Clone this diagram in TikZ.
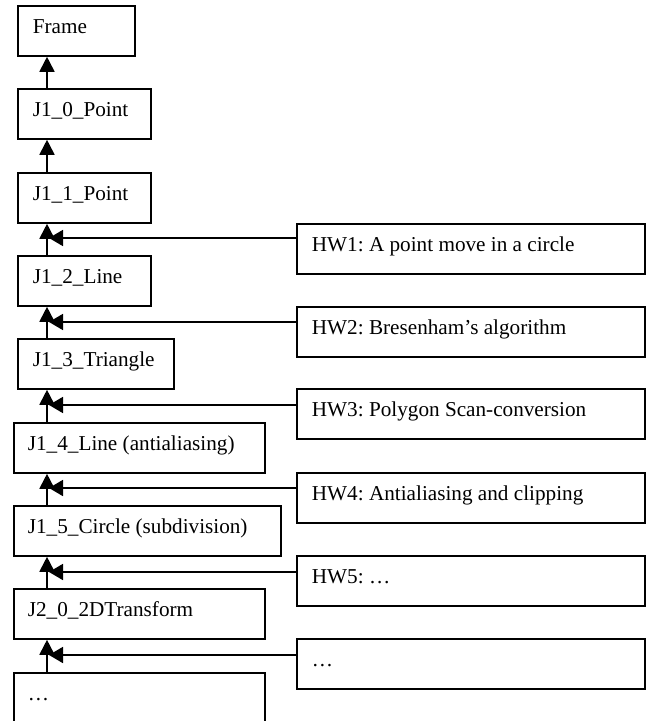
\documentclass[tikz,border=0pt]{standalone}
\usepackage{fontspec}
\setmainfont{Liberation Serif}
\usetikzlibrary{arrows.meta,calc}
\newcommand\myboxfont{\fontsize{10.6pt}{12pt}\selectfont}
\newcommand\myspacing{\frenchspacing\spaceskip=0.25em\relax\xspaceskip=0.25em\relax}
\begin{document}
\begin{tikzpicture}[x=0.5pt,y=-0.5pt,
  box/.style={draw, line width=0.9pt, anchor=north west, inner xsep=7.5pt, inner ysep=0pt,
    text height=14pt, text depth=11pt, align=left, font=\myboxfont,
    execute at begin node=\myspacing},
  arr/.style={line width=0.9pt, -{Triangle[length=7.5pt,width=7.5pt]}},
  link/.style={line width=0.9pt, -{Triangle[length=7pt,width=8pt]}}]
\useasboundingbox (0,0) rectangle (649,721);
% left column
\node[box, text width=43.5pt] (frame) at (17,5) {Frame};
\node[box, text width=51.5pt] (j10) at (17,88) {J1\_0\_Point};
\node[box, text width=51.5pt] (j11) at (17,172) {J1\_1\_Point};
\node[box, text width=51.5pt] (j12) at (17,255) {J1\_2\_Line};
\node[box, text width=63pt] (j13) at (17,338) {J1\_3\_Triangle};
\node[box, inner xsep=7pt, text width=111.5pt] (j14) at (13,422) {J1\_4\_Line (antialiasing)};
\node[box, inner xsep=7pt, text width=119.5pt] (j15) at (13,505) {J1\_5\_Circle (subdivision)};
\node[box, inner xsep=7pt, text width=111.5pt] (j20) at (13,588) {J2\_0\_2DTransform};
\node[box, inner xsep=7pt, text width=111.5pt] (jd) at (13,672) {…};
% right column
\node[box, text width=159pt] (hw1) at (296,223) {HW1: A point move in a circle};
\node[box, text width=159pt] (hw2) at (296,306) {HW2: Bresenham’s algorithm};
\node[box, text width=159pt] (hw3) at (296,388) {HW3: Polygon Scan-conversion};
\node[box, text width=159pt] (hw4) at (296,472) {HW4: Antialiasing and clipping};
\node[box, text width=159pt] (hw5) at (296,555) {HW5: …};
\node[box, text width=159pt] (hwd) at (296,638) {…};
% spine
\coordinate (spine) at (47,0);
\coordinate (tip) at (49,0);
\draw[arr] (j10.north -| spine) -- (frame.south -| spine);
\draw[arr] (j11.north -| spine) -- (j10.south -| spine);
\draw[arr] (j12.north -| spine) -- (j11.south -| spine);
\draw[arr] (j13.north -| spine) -- (j12.south -| spine);
\draw[arr] (j14.north -| spine) -- (j13.south -| spine);
\draw[arr] (j15.north -| spine) -- (j14.south -| spine);
\draw[arr] (j20.north -| spine) -- (j15.south -| spine);
\draw[arr] (jd.north -| spine) -- (j20.south -| spine);
% homework links
\foreach \h/\d in {hw1/15,hw2/16,hw3/17,hw4/16,hw5/17,hwd/17}{
  \coordinate (\h-l) at ($(\h.north west)+(0,\d)$);
  \draw[link] (\h-l) -- (\h-l -| tip);
}
\end{tikzpicture}
\end{document}
